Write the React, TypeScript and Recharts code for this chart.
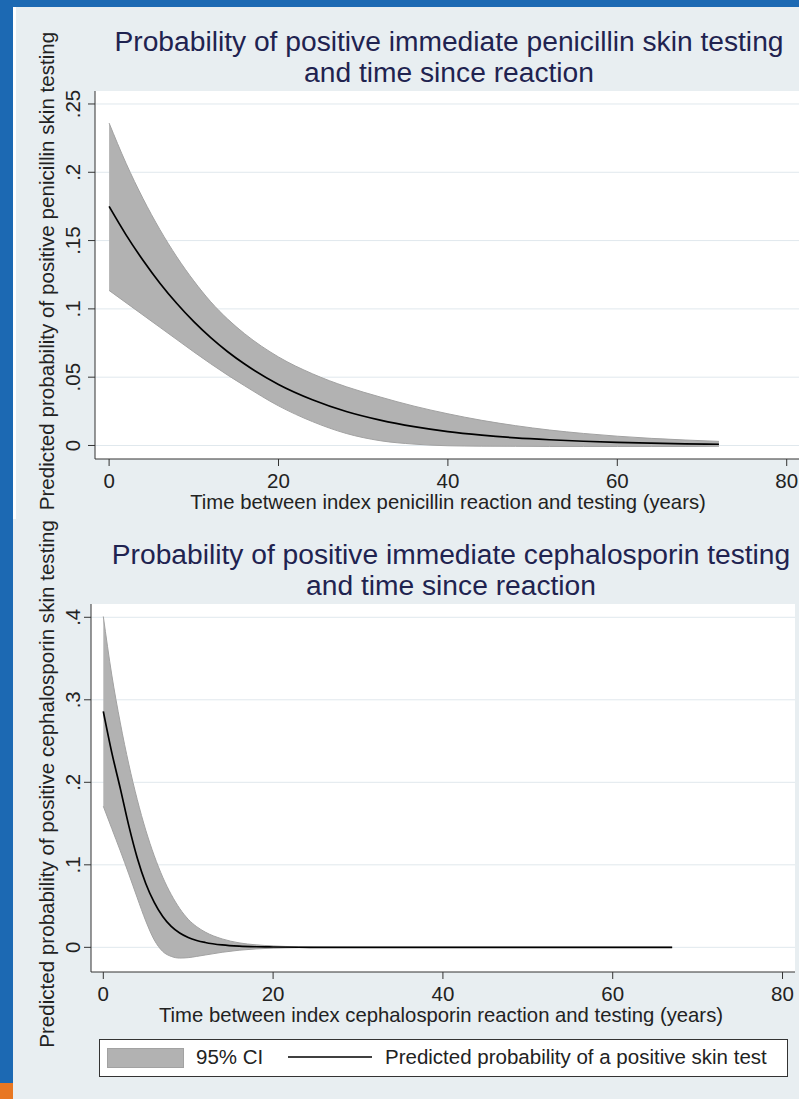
import React from 'react';
import { ComposedChart, Area, Line, XAxis, YAxis, CartesianGrid } from 'recharts';

// ---- Penicillin (top) ----
const penYears = [0, 2, 4, 6, 8, 10, 12, 14, 16, 20, 24, 28, 32, 36, 40, 44, 48, 52, 56, 60, 64, 68, 72];
const penPred = [0.175, 0.1542, 0.1356, 0.1188, 0.1039, 0.0906, 0.0789, 0.0686, 0.0596, 0.0447, 0.0335, 0.0249, 0.0186, 0.0138, 0.0102, 0.0076, 0.0056, 0.0042, 0.0031, 0.0023, 0.0017, 0.0012, 0.0009];
const penHi = [0.236, 0.2066, 0.1808, 0.158, 0.138, 0.1205, 0.1052, 0.0925, 0.0818, 0.0648, 0.0525, 0.043, 0.0355, 0.0288, 0.0232, 0.0184, 0.0145, 0.0113, 0.0088, 0.0068, 0.0052, 0.004, 0.003];
const penLo = [0.1135, 0.1045, 0.0955, 0.0865, 0.0775, 0.0685, 0.0598, 0.0515, 0.0437, 0.029, 0.0175, 0.0088, 0.0035, 0.001, -0.0002, -0.0005, -0.0006, -0.0007, -0.0007, -0.0007, -0.0007, -0.0007, -0.0006];
const penYTicks = [0, 0.05, 0.1, 0.15, 0.2, 0.25];

// ---- Cephalosporin (bottom) ----
const cephYears = [0, 1, 2, 3, 4, 5, 6, 7, 8, 9, 10, 11, 12, 14, 16, 18, 20, 23, 26, 30, 40, 50, 60, 67];
const cephPred = [0.286, 0.236, 0.1927, 0.1475, 0.1083, 0.0774, 0.0544, 0.0373, 0.0253, 0.0173, 0.0119, 0.0083, 0.0059, 0.0029, 0.0014, 0.0007, 0.0004, 0.0001, 0, 0, 0, 0, 0, 0];
const cephHi = [0.401, 0.33, 0.272, 0.222, 0.179, 0.142, 0.111, 0.085, 0.064, 0.047, 0.034, 0.025, 0.0185, 0.0102, 0.0054, 0.003, 0.0017, 0.0006, 0.0002, 0, 0, 0, 0, 0];
const cephLo = [0.171, 0.144, 0.117, 0.089, 0.06, 0.032, 0.009, -0.005, -0.011, -0.013, -0.0125, -0.011, -0.0093, -0.006, -0.0035, -0.0019, -0.001, -0.0004, -0.0001, 0, 0, 0, 0, 0];
const cephYTicks = [0, 0.1, 0.2, 0.3, 0.4];

const xTicks = [0, 20, 40, 60, 80];

const penData = penYears.map((t, i) => ({ t, pred: penPred[i], band: [penLo[i], penHi[i]] }));
const cephData = cephYears.map((t, i) => ({ t, pred: cephPred[i], band: [cephLo[i], cephHi[i]] }));

const FONT = '"Liberation Sans", Arial, Helvetica, sans-serif';
const BG = '#e8eef1';
const GRID = '#e0e8ed';
const AXIS = '#333';
const TITLE = '#1f2350';
const BAND = '#b2b2b2';
const BAND_EDGE = '#a2a2a2';
const FS = 20.5;

const fmt = (v: number) => (v === 0 ? '0' : String(v).replace(/^0/, ''));

const YTick = (p: any) => (
  <text
    x={80}
    y={p.y}
    transform={`rotate(-90 80 ${p.y})`}
    textAnchor="middle"
    fontSize={FS}
    fontFamily={FONT}
    fill="#222"
  >
    {fmt(p.payload.value)}
  </text>
);

const XTick = (p: any) => (
  <text x={p.x} y={p.y + 14} textAnchor="middle" fontSize={FS} fontFamily={FONT} fill="#222">
    {p.payload.value}
  </text>
);

const yTitle = (text: string) => (props: any) => {
  const vb = props.viewBox || {};
  const cx = 46;
  const cy = (vb.y || 0) + (vb.height || 0) / 2 - 4;
  return (
    <text
      x={cx}
      y={cy}
      transform={`rotate(-90 ${cx} ${cy})`}
      textAnchor="middle"
      dominantBaseline="central"
      fontSize={20.6}
      fontFamily={FONT}
      fill="#222"
    >
      {text}
    </text>
  );
};

const xTitle = (text: string) => (props: any) => {
  const vb = props.viewBox || {};
  const cx = (vb.x || 0) + (vb.width || 0) / 2 - 2;
  const y = (vb.y || 0) + 50;
  return (
    <text x={cx} y={y} textAnchor="middle" fontSize={20.3} fontFamily={FONT} fill="#222">
      {text}
    </text>
  );
};

function Panel(props: {
  data: any[];
  width: number;
  height: number;
  yAxisWidth: number;
  marginTop: number;
  marginRight: number;
  xAxisHeight: number;
  xDomain: [number, number];
  yDomain: [number, number];
  yTicks: number[];
  xLabel: string;
  yLabel: string;
}) {
  return (
    <ComposedChart
      width={props.width}
      height={props.height}
      data={props.data}
      margin={{ top: props.marginTop, right: props.marginRight, bottom: 0, left: 0 }}
    >
      <CartesianGrid vertical={false} stroke={GRID} fill="#ffffff" horizontalValues={props.yTicks} />
      <XAxis
        dataKey="t"
        type="number"
        domain={props.xDomain}
        ticks={xTicks}
        allowDataOverflow
        height={props.xAxisHeight}
        stroke={AXIS}
        tickSize={7}
        tickMargin={8}
        tick={<XTick />}
        label={{ content: xTitle(props.xLabel) } as any}
      />
      <YAxis
        type="number"
        domain={props.yDomain}
        ticks={props.yTicks}
        allowDataOverflow
        width={props.yAxisWidth}
        stroke={AXIS}
        tickSize={7}
        tick={<YTick />}
        label={{ content: yTitle(props.yLabel) } as any}
      />
      <Area
        dataKey="band"
        type="monotone"
        fill={BAND}
        fillOpacity={1}
        stroke={BAND_EDGE}
        strokeWidth={1}
        isAnimationActive={false}
        dot={false}
        activeDot={false}
      />
      <Line
        dataKey="pred"
        type="monotone"
        stroke="#000"
        strokeWidth={1.7}
        dot={false}
        activeDot={false}
        isAnimationActive={false}
      />
    </ComposedChart>
  );
}

export default function App() {
  return (
    <div
      style={{
        position: 'fixed',
        left: 0,
        top: 0,
        width: 799,
        height: 1099,
        overflow: 'hidden',
        background: '#1c69b3',
        fontFamily: FONT,
      }}
    >
      <div style={{ position: 'absolute', left: 0, top: 1083, width: 13, height: 16, background: '#e87722' }} />
      <div
        style={{
          position: 'absolute',
          left: 13,
          top: 7,
          width: 786,
          height: 512,
          background: BG,
          borderLeft: '3px solid #ffffff',
          boxSizing: 'border-box',
        }}
      />
      <div style={{ position: 'absolute', left: 13, top: 519, width: 786, height: 580, background: BG }} />

      <div style={{ position: 'absolute', left: 0, top: 0 }}>
        <Panel
          data={penData}
          width={810}
          height={520}
          yAxisWidth={95}
          marginTop={91}
          marginRight={5}
          xAxisHeight={61}
          xDomain={[-1.665, 82.16]}
          yDomain={[-0.0099, 0.2595]}
          yTicks={penYTicks}
          xLabel="Time between index penicillin reaction and testing (years)"
          yLabel="Predicted probability of positive penicillin skin testing"
        />
      </div>

      <div style={{ position: 'absolute', left: 0, top: 519 }}>
        <Panel
          data={cephData}
          width={800}
          height={530}
          yAxisWidth={91}
          marginTop={85}
          marginRight={5}
          xAxisHeight={77}
          xDomain={[-1.449, 81.47]}
          yDomain={[-0.0299, 0.4161]}
          yTicks={cephYTicks}
          xLabel="Time between index cephalosporin reaction and testing (years)"
          yLabel="Predicted probability of positive cephalosporin skin testing"
        />
      </div>

      <svg
        width={799}
        height={1099}
        style={{ position: 'absolute', left: 0, top: 0, pointerEvents: 'none' }}
      >
        <g fontFamily={FONT} fill={TITLE} fontSize={28.2} textAnchor="middle">
          <text x={449} y={51}>Probability of positive immediate penicillin skin testing</text>
          <text x={449} y={82}>and time since reaction</text>
          <text x={451} y={564}>Probability of positive immediate cephalosporin testing</text>
          <text x={451} y={595}>and time since reaction</text>
        </g>
        <rect x={99.5} y={1039.5} width={688} height={37} fill="#ffffff" stroke="#333" strokeWidth={1} />
        <rect x={107.5} y={1048.5} width={76} height={19} fill={BAND} stroke={BAND_EDGE} strokeWidth={1} />
        <text x={196} y={1064} fontFamily={FONT} fontSize={FS} fill="#222">95% CI</text>
        <line x1={288} y1={1057} x2={372} y2={1057} stroke="#000" strokeWidth={1.7} />
        <text x={385} y={1064} fontFamily={FONT} fontSize={FS} fill="#222">
          Predicted probability of a positive skin test
        </text>
      </svg>
    </div>
  );
}
